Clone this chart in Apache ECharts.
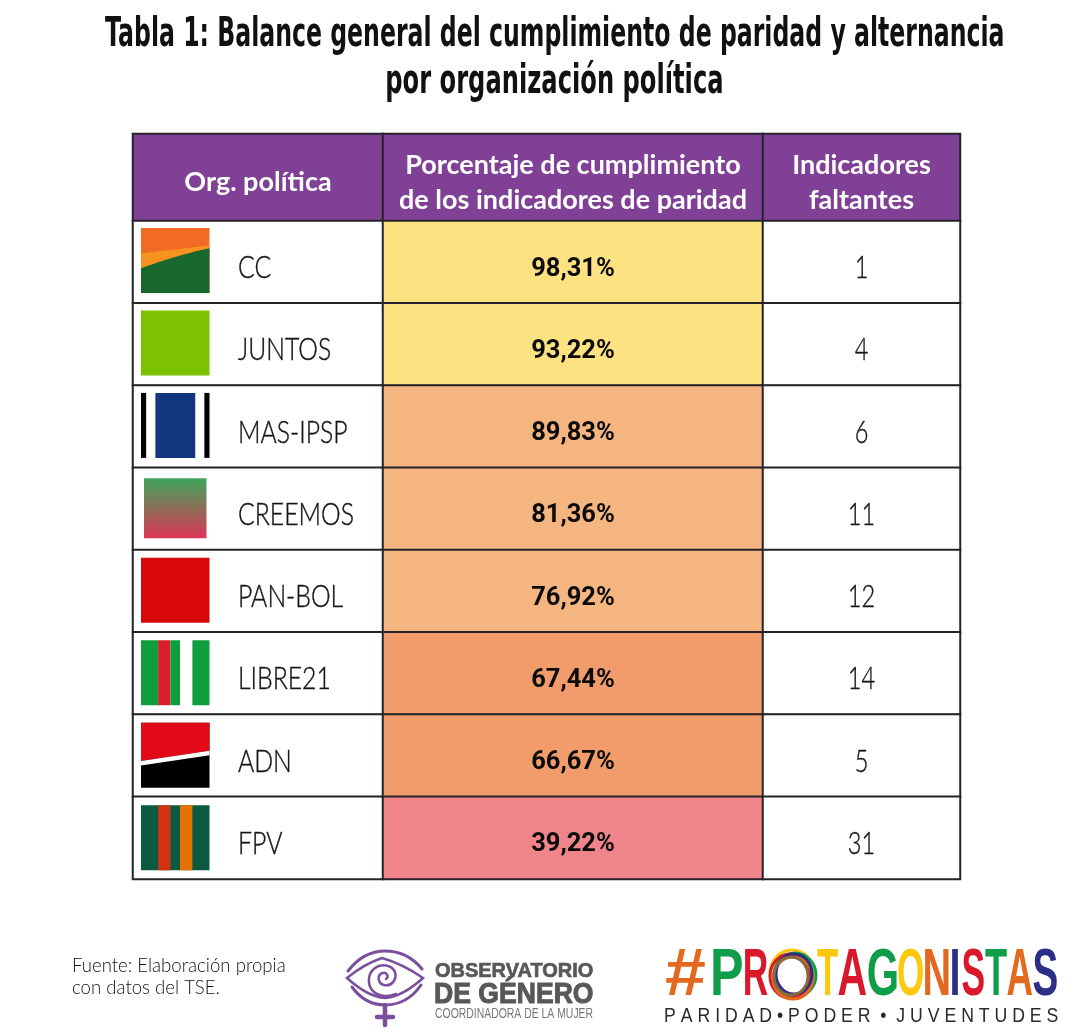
<!DOCTYPE html>
<html><head><meta charset="utf-8">
<style>html,body{margin:0;padding:0;background:#fff}#c{width:1083px;height:1035px}</style>
<script src="https://cdn.jsdelivr.net/npm/echarts@6/dist/echarts.min.js"></script>
</head><body><div id="c"></div>
<script>
const organizaciones = ['CC','JUNTOS','MAS-IPSP','CREEMOS','PAN-BOL','LIBRE21','ADN','FPV'];
const cumplimiento = [98.31,93.22,89.83,81.36,76.92,67.44,66.67,39.22];
const faltantes = [1,4,6,11,12,14,5,31];
const encabezados = ['Org. política','Porcentaje de cumplimiento\nde los indicadores de paridad','Indicadores\nfaltantes'];
const tituloLinea1 = 'Tabla 1: Balance general del cumplimiento de paridad y alternancia';
const tituloLinea2 = 'por organización política';
const fuente = 'Fuente: Elaboración propia\ncon datos del TSE.';

const colX = [133,383,763,960], headTop = 134, headBottom = 221, bodyBottom = 879;
const border = {borderColor:'#26222a', borderWidth:2};
function band(v){ return v>=90?'#fde282': v>=70?'#f4b581': v>=50?'#f19c6a':'#ef848b'; }

const grids=[], xAxes=[], yAxes=[], series=[];
function addGrid(l,r,t,b,cats){
  grids.push({left:l,top:t,width:r-l,height:b-t,containLabel:false});
  xAxes.push({type:'category',data:['c'],show:false,gridIndex:grids.length-1});
  yAxes.push({type:'category',data:cats,inverse:true,show:false,gridIndex:grids.length-1});
  return grids.length-1;
}
// texto centrado en la celda, colocado mediante la escala del eje
function cellText(g,rows,style,dy,scaleX){
  series.push({type:'custom',xAxisIndex:g,yAxisIndex:g,silent:true,z:5,
    data:rows.map((t,i)=>[0,i]),encode:{x:0,y:1},
    renderItem(p,api){
      const i=api.value(1), c=api.coord([0,i]);
      return {type:'text',x:c[0],y:c[1]+dy,scaleX:scaleX||1,
        style:{text:rows[i],textAlign:'center',textVerticalAlign:'middle',...style}};
    }});
}
encabezados.forEach((h,i)=>{
  const g=addGrid(colX[i],colX[i+1],headTop,headBottom,['h']);
  series.push({type:'heatmap',xAxisIndex:g,yAxisIndex:g,silent:true,
    data:[{value:[0,0,1],itemStyle:{color:'#7f4095',...border}}],
    label:{show:false},emphasis:{disabled:true}});
  cellText(g,[h],{fontFamily:'Lato',fontWeight:700,fontSize:27,lineHeight:35,fill:'#fff'},5);
});
const thinText={fontFamily:'Lato',fontWeight:300,fontSize:31,fill:'#15151a',stroke:'#15151a',lineWidth:.4};
// columna 1: celdas blancas + logos y nombres
const g1=addGrid(colX[0],colX[1],headBottom,bodyBottom,organizaciones);
series.push({type:'heatmap',xAxisIndex:g1,yAxisIndex:g1,silent:true,
  data:organizaciones.map((o,i)=>({value:[0,i,1],itemStyle:{color:'#fff',...border}})),
  label:{show:false},emphasis:{disabled:true}});

function rect(x,y,w,h,fill){return {type:'rect',shape:{x,y,width:w,height:h},style:{fill}};}
function stripes(x,y,w,h,list){return list.map(s=>rect(x+s[0]*w,y,(s[1]-s[0])*w,h,s[2]));}
function poly(points,fill){return {type:'polygon',shape:{points},style:{fill}};}
const logos={
 CC(x,y,w,h){
  const green=[];
  for(let k=0;k<=20;k++){const t=k/20; green.push([x+t*w,y+h*(0.62-0.31*(t+.25*t*(1-t)))]);}
  return [rect(x,y,w,h,'#f26a24'),
    poly([[x,y+.39*h],[x+w,y+.27*h],[x+w,y+.33*h],[x,y+.63*h]],'#f7931e'),
    poly([...green,[x+w,y+h],[x,y+h]],'#17672f')];
 },
 JUNTOS(x,y,w,h){return [rect(x,y,w,h,'#7dc200')];},
 'MAS-IPSP'(x,y,w,h){return stripes(x,y,w,h,[[0,.075,'#000'],[.21,.79,'#13367f'],[.79,.8,'#a9c4e6'],[.925,1,'#000']]);},
 CREEMOS(x,y,w,h){
  return [{type:'rect',shape:{x:x+3,y:y+3,width:w-6,height:h-5},style:{fill:new echarts.graphic.LinearGradient(0,0,0,1,[{offset:0,color:'#3fa55a'},{offset:1,color:'#dc3657'}])}}];
 },
 'PAN-BOL'(x,y,w,h){return [rect(x,y,w,h,'#d90808')];},
 LIBRE21(x,y,w,h){return stripes(x,y,w,h,[[0,.25,'#0f9d3e'],[.25,.43,'#da1f2a'],[.43,.57,'#0f9d3e'],[.75,1,'#0f9d3e']]);},
 ADN(x,y,w,h){return [rect(x,y,w,h,'#000'),
    poly([[x,y],[x+w,y],[x+w,y+.43*h],[x,y+.59*h]],'#e30a17'),
    poly([[x,y+.59*h],[x+w,y+.43*h],[x+w,y+.5*h],[x,y+.66*h]],'#fff')];},
 FPV(x,y,w,h){return stripes(x,y,w,h,[[0,1,'#0b5a40'],[.25,.43,'#cf330f'],[.57,.75,'#e87103']]);}
};
series.push({type:'custom',xAxisIndex:g1,yAxisIndex:g1,silent:true,z:5,
  data:organizaciones.map((o,i)=>[0,i]),
  encode:{x:0,y:1},
  renderItem(p,api){
    const i=api.value(1), c=api.coord([0,i]), s=api.size([1,1]);
    const o=organizaciones[i];
    const x=c[0]-s[0]/2+8, y=c[1]-s[1]/2+7+i*.2, w=68.5, h=65;
    return {type:'group',children:[...logos[o](x,y,w,h),
      {type:'text',x:c[0]-s[0]/2+105,y:c[1]+6,scaleX:.8,style:{text:o,...thinText,textAlign:'left',textVerticalAlign:'middle'}}]};
  }});
// columna 2
const g2=addGrid(colX[1],colX[2],headBottom,bodyBottom,organizaciones);
series.push({type:'heatmap',xAxisIndex:g2,yAxisIndex:g2,silent:true,
  data:cumplimiento.map((v,i)=>({value:[0,i,v],itemStyle:{color:band(v),...border}})),
  label:{show:false},emphasis:{disabled:true}});
cellText(g2,cumplimiento.map(v=>v.toFixed(2).replace('.',',')+'%'),{fontFamily:'Roboto',fontWeight:700,fontSize:25.5,fill:'#0b0b0b'},7);
// columna 3
const g3=addGrid(colX[2],colX[3],headBottom,bodyBottom,organizaciones);
series.push({type:'heatmap',xAxisIndex:g3,yAxisIndex:g3,silent:true,
  data:faltantes.map((v,i)=>({value:[0,i,v],itemStyle:{color:'#fff',...border}})),
  label:{show:false},emphasis:{disabled:true}});
cellText(g3,faltantes.map(String),thinText,6,.76);

// logotipos
const purple='#7b4f9e', gray='#585858';
let shapeN=0;
function ps(d,w){const name='logoPath'+(shapeN++);
  echarts.graphic.registerShape(name,echarts.graphic.extendPath(d,{}));
  return {type:name,silent:true,style:{stroke:purple,lineWidth:w,fill:'none',lineCap:'round',lineJoin:'miter'}};}
const measure=document.createElement('canvas').getContext('2d');
// ajusta la tinta del texto exactamente entre x0 y x1
function fit(text,x0,x1,yMid,font,weight,size,fill,extra){
  measure.font=`${weight} ${size}px "${font}"`;
  const m=measure.measureText(text);
  const l=m.actualBoundingBoxLeft, w=l+m.actualBoundingBoxRight, sx=(x1-x0)/w;
  return {type:'text',x:x0+l*sx,y:yMid,scaleX:sx,originX:0,silent:true,
    style:{text,fontFamily:font,fontWeight:weight,fontSize:size,fill,textAlign:'left',textVerticalAlign:'middle',...(extra||{})}};
}
const letras=[['#',666,705,'#e3691f'],['P',713,742,'#0f9d4a'],['R',745,768,'#d9182b'],['T',817,838,'#fdc70c'],['A',838,866,'#d9182b'],['G',868,897,'#0f9d4a'],['O',898,923,'#fdc70c'],['N',925,949,'#e3691f'],['I',952,958,'#2c2f86'],['S',962,984,'#d9182b'],['T',985,1007,'#0f9d4a'],['A',1007,1032,'#e3691f'],['S',1033,1057,'#2c2f86']];
const anillos=[['#fdc70c',-1,-2,22,23],['#0f9d4a',2,0,21,22],['#d9182b',-3,1,20,22],['#e3691f',0,3,20,21],['#2c2f86',1,-1,18,20],['#8a6a3a',-2,1,17,19]];
const graphic=[
 fit(tituloLinea1,105,1003,35,'DejaVu Sans','700',41,'#111'),
 fit(tituloLinea2,387,722,82,'DejaVu Sans','700',41,'#111'),
 {type:'text',x:72,y:955,silent:true,style:{text:fuente,fontFamily:'Lato',fontWeight:300,fontSize:18.6,lineHeight:22,fill:'#111'}},
 ps('M348 971 C358 958 371 951 385 951 C400 951 413 958 422 969',3),
 ps('M347 978 C358 969 370 962 382 958 C396 962 410 969 423 978 C412 988 399 997 385 998 C371 997 358 988 347 978 Z',2.5),
 ps('M352 987 C360 998 371 1005 385 1005 C399 1005 412 998 421 985',3),
 ps('M386 979 C389 977 387 972 383 973 C377 974 377 983 384 985 C392 987 397 979 395 972 C392 965 381 963 375 968 C367 974 367 986 374 992 C380 997 389 997 396 994',2.5),
 ps('M385 1005 L385 1025 M377 1017 L393 1017',4.5),
 fit('OBSERVATORIO',435,593,971,'Liberation Sans','700',21,gray,{stroke:gray,lineWidth:.7}),
 fit('DE GÉNERO',435,593,995,'Liberation Sans','700',29,gray,{stroke:gray,lineWidth:1}),
 fit('COORDINADORA DE LA MUJER',435,593,1014,'Liberation Sans','400',14,'#777'),
 ...letras.map(l=>fit(l[0],l[1],l[2],977,'Liberation Sans','700',66,l[3])),
 ...anillos.map(a=>({type:'ellipse',silent:true,shape:{cx:793+a[1],cy:975+a[2],rx:a[3],ry:a[4]},style:{stroke:a[0],lineWidth:3,fill:'none'}})),
 fit('P A R I D A D • P O D E R  •  J U V E N T U D E S',665,1058,1016,'Liberation Sans','400',20,'#2a2a2a')
];

const chart=echarts.init(document.getElementById('c'),null,{renderer:'canvas'});
chart.setOption({
  animation:false,backgroundColor:'#fff',
  grid:grids,xAxis:xAxes,yAxis:yAxes,series,graphic
});
</script></body></html>
